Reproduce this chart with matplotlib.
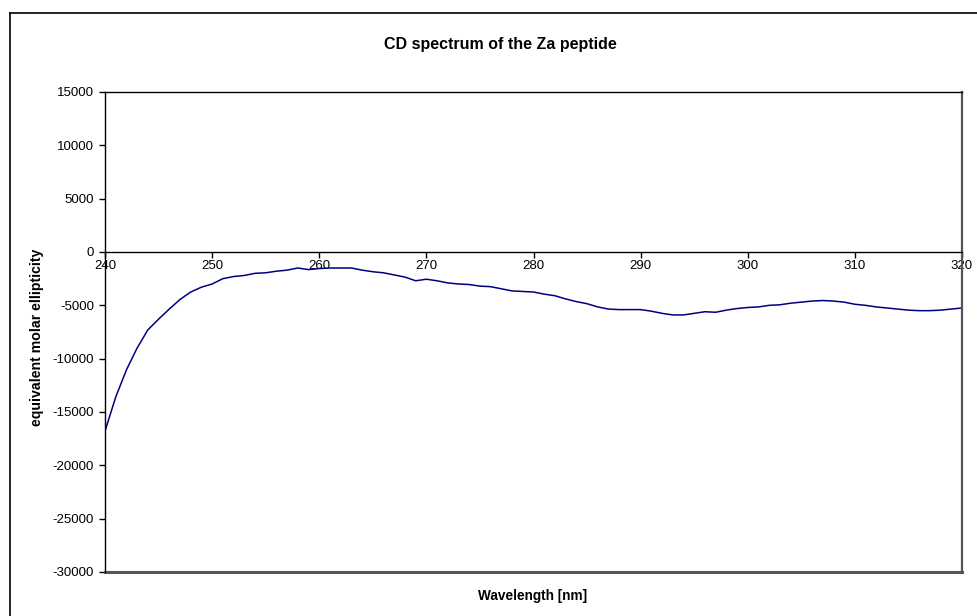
import matplotlib
matplotlib.use("Agg")
import matplotlib.pyplot as plt
from matplotlib.lines import Line2D

plt.rcParams["font.family"] = ["Liberation Sans", "DejaVu Sans"]
plt.rcParams["axes.unicode_minus"] = False

# ─── CD spectrum data ─────────────────────────────────────────────────────────
wavelength = list(range(240, 321))
ellipticity = [
    -16800, -13600, -11050, -9000, -7300, -6300, -5350, -4450, -3750, -3300,  # 240-249
    -3000, -2500, -2300, -2200, -2000, -1950, -1800, -1700, -1500, -1650,      # 250-259
    -1550, -1500, -1500, -1500, -1700, -1850, -1950, -2150, -2350, -2700,      # 260-269
    -2550, -2700, -2900, -3000, -3050, -3200, -3250, -3450, -3650, -3700,      # 270-279
    -3750, -3950, -4100, -4400, -4650, -4850, -5150, -5350, -5400, -5400,      # 280-289
    -5400, -5550, -5750, -5900, -5900, -5750, -5600, -5650, -5450, -5300,      # 290-299
    -5200, -5150, -5000, -4950, -4800, -4700, -4600, -4550, -4600, -4700,      # 300-309
    -4900, -5000, -5150, -5250, -5350, -5450, -5500, -5500, -5450, -5350,      # 310-319
    -5250,                                                                     # 320
]

x_ticks = list(range(240, 321, 10))
y_ticks = list(range(-30000, 15001, 5000))

W, H = 978, 616
fig = plt.figure(figsize=(W / 100, H / 100), dpi=100)

# plot area in pixel coordinates
left, right, top, bottom = 105, 962, 92, 572
ax = fig.add_axes([left / W, 1 - bottom / H, (right - left) / W, (bottom - top) / H])

ax.plot(wavelength, ellipticity, color="#000080", linewidth=1.1)

ax.set_xlim(240, 320)
ax.set_ylim(-30000, 15000)
ax.set_xticks(x_ticks)
ax.set_yticks(y_ticks)

# x axis crosses at zero, Excel style
ax.spines["bottom"].set_position(("data", 0))
ax.spines["bottom"].set_color("black")
ax.spines["bottom"].set_linewidth(1.0)
ax.spines["left"].set_color("black")
ax.spines["left"].set_linewidth(1.0)
ax.spines["top"].set_color("black")
ax.spines["top"].set_linewidth(1.0)
ax.spines["right"].set_color("#555555")
ax.spines["right"].set_linewidth(1.6)
ax.axhline(-30000, color="#555555", linewidth=2.2, clip_on=False)

ax.tick_params(axis="x", direction="out", length=4, width=1, labelsize=9.5, pad=2)
ax.tick_params(axis="y", direction="out", length=4, width=1, labelsize=9.5, pad=4)
for lbl in ax.get_xticklabels():
    lbl.set_zorder(5)

fig.text(500 / W, 1 - 45 / H, "CD spectrum of the Za peptide",
         ha="center", va="center", fontsize=11.5, fontweight="bold")
fig.text(533 / W, 1 - 596 / H, "Wavelength [nm]",
         ha="center", va="center", fontsize=9.8, fontweight="bold")
fig.text(37 / W, 1 - 337 / H, "equivalent molar ellipticity",
         ha="center", va="center", rotation=90, fontsize=10.2, fontweight="bold")

# chart frame
fx, fy = 10 / W, 1 - 13 / H
fig.add_artist(Line2D([fx, fx], [0, fy], color="black", linewidth=1.2))
fig.add_artist(Line2D([fx, 1], [fy, fy], color="black", linewidth=1.2))

fig.savefig("out.png", dpi=100)
